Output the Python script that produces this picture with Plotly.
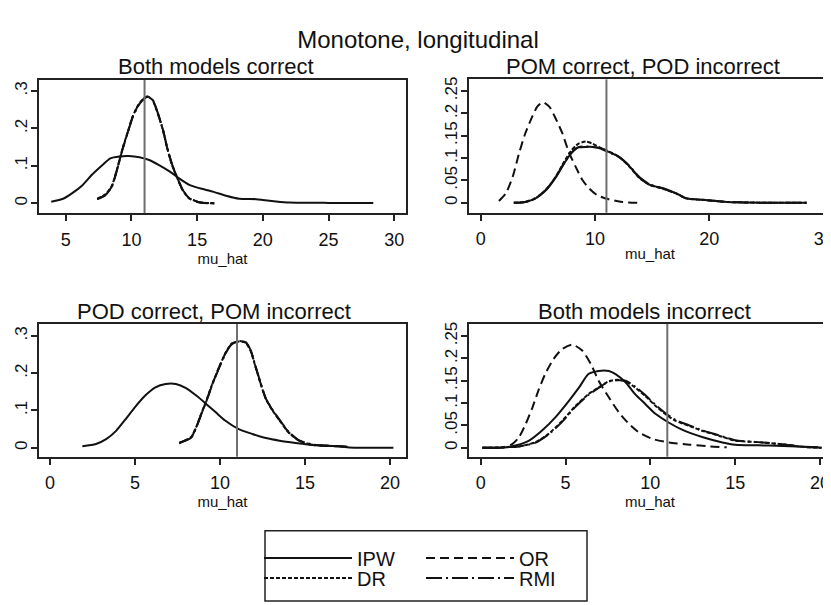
import plotly.graph_objects as go

# ---------------- data ----------------
TRUE_MU = 11

# Panel 1: Both models correct
p1_ipw_x = [3.9, 4.8, 5.5, 6.3, 7.0, 7.8, 8.4, 9.1, 9.8, 10.6, 11.3, 12.1, 12.9, 13.6, 14.4, 15.2, 16.2, 17.2, 18.2, 19.5, 20.0, 21.0, 22.0, 25.0, 28.4]
p1_ipw_y = [0.004, 0.012, 0.027, 0.049, 0.076, 0.102, 0.120, 0.125, 0.126, 0.123, 0.116, 0.102, 0.085, 0.067, 0.049, 0.040, 0.031, 0.020, 0.012, 0.011, 0.009, 0.005, 0.002, 0.001, 0.001]
p1_x = [7.4, 8.0, 8.5, 8.9, 9.3, 9.7, 10.1, 10.5, 10.8, 11.2, 11.6, 12.0, 12.4, 12.7, 13.1, 13.5, 13.9, 14.4, 15.2, 16.3]
p1_or_y = [0.011, 0.022, 0.044, 0.089, 0.142, 0.187, 0.231, 0.260, 0.274, 0.285, 0.277, 0.241, 0.196, 0.151, 0.102, 0.067, 0.036, 0.013, 0.002, 0.000]
p1_dr_y = [0.012, 0.023, 0.046, 0.090, 0.143, 0.188, 0.232, 0.261, 0.275, 0.284, 0.276, 0.240, 0.195, 0.150, 0.101, 0.066, 0.035, 0.013, 0.003, 0.000]
p1_rmi_y = [0.011, 0.021, 0.043, 0.088, 0.141, 0.186, 0.230, 0.259, 0.273, 0.284, 0.277, 0.242, 0.197, 0.152, 0.103, 0.068, 0.036, 0.014, 0.002, 0.000]

# Panel 2: POM correct, POD incorrect
p2_or_x = [1.6, 2.2, 2.8, 3.35, 3.9, 4.5, 4.95, 5.45, 6.0, 6.55, 7.15, 7.7, 8.3, 8.9, 9.5, 10.2, 11.2, 12.4, 13.7]
p2_or_y = [0.004, 0.021, 0.058, 0.110, 0.155, 0.192, 0.215, 0.225, 0.215, 0.189, 0.155, 0.114, 0.081, 0.051, 0.032, 0.017, 0.008, 0.002, 0.000]
p2_x = [2.9, 3.9, 4.8, 5.7, 6.6, 7.3, 7.9, 8.3, 8.6, 9.2, 9.8, 10.4, 11.2, 12.1, 13.0, 13.9, 14.8, 16.0, 17.2, 18.0, 19.8, 21.5, 23.0, 26.0, 28.5]
p2_ipw_y = [0.000, 0.002, 0.010, 0.028, 0.058, 0.088, 0.110, 0.120, 0.124, 0.125, 0.125, 0.123, 0.114, 0.103, 0.082, 0.056, 0.040, 0.032, 0.020, 0.010, 0.006, 0.002, 0.001, 0.000, 0.000]
p2_dr_y = [0.000, 0.002, 0.010, 0.029, 0.060, 0.092, 0.116, 0.127, 0.133, 0.137, 0.132, 0.124, 0.115, 0.103, 0.081, 0.055, 0.040, 0.031, 0.020, 0.010, 0.006, 0.002, 0.001, 0.000, 0.000]
p2_rmi_y = [0.000, 0.002, 0.011, 0.029, 0.059, 0.089, 0.111, 0.121, 0.125, 0.126, 0.125, 0.122, 0.113, 0.102, 0.083, 0.057, 0.041, 0.032, 0.019, 0.010, 0.006, 0.002, 0.001, 0.000, 0.000]

# Panel 3: POD correct, POM incorrect
p3_ipw_x = [1.9, 2.7, 3.3, 3.9, 4.45, 5.0, 5.6, 6.2, 6.8, 7.4, 8.0, 8.6, 9.2, 9.75, 10.3, 11.1, 11.9, 12.7, 13.5, 14.45, 15.6, 17.0, 17.6, 20.2]
p3_ipw_y = [0.004, 0.010, 0.023, 0.046, 0.077, 0.109, 0.140, 0.162, 0.171, 0.171, 0.160, 0.140, 0.117, 0.095, 0.073, 0.050, 0.037, 0.026, 0.019, 0.013, 0.007, 0.004, 0.001, 0.000]
p3_x = [7.6, 8.3, 8.6, 8.9, 9.2, 9.55, 9.95, 10.35, 10.7, 11.1, 11.5, 11.8, 12.1, 12.4, 12.7, 13.1, 13.6, 14.05, 14.65, 15.4, 16.4, 17.5]
p3_or_y = [0.013, 0.028, 0.055, 0.091, 0.126, 0.171, 0.216, 0.256, 0.279, 0.286, 0.283, 0.261, 0.216, 0.171, 0.131, 0.100, 0.068, 0.041, 0.019, 0.008, 0.005, 0.003]
p3_dr_y = [0.012, 0.029, 0.056, 0.092, 0.127, 0.172, 0.217, 0.257, 0.280, 0.285, 0.282, 0.260, 0.215, 0.170, 0.130, 0.099, 0.067, 0.040, 0.019, 0.008, 0.005, 0.003]
p3_rmi_y = [0.013, 0.027, 0.054, 0.090, 0.125, 0.170, 0.215, 0.255, 0.278, 0.286, 0.284, 0.262, 0.217, 0.172, 0.132, 0.101, 0.069, 0.042, 0.020, 0.009, 0.005, 0.003]

# Panel 4: Both models incorrect
p4_or_x = [0.1, 1.3, 1.85, 2.25, 2.65, 3.05, 3.4, 3.8, 4.3, 4.8, 5.4, 6.0, 6.5, 6.95, 7.55, 8.15, 8.75, 9.3, 10.1, 11.1, 12.3, 13.5, 14.5]
p4_or_y = [0.000, 0.001, 0.008, 0.023, 0.053, 0.090, 0.128, 0.165, 0.199, 0.221, 0.231, 0.217, 0.187, 0.150, 0.113, 0.079, 0.053, 0.035, 0.020, 0.012, 0.007, 0.003, 0.001]
p4_ipw_x = [0.1, 1.3, 2.05, 2.85, 3.6, 4.4, 5.2, 5.8, 6.35, 6.95, 7.55, 7.95, 8.55, 9.1, 9.7, 10.3, 11.1, 11.9, 13.05, 14.25, 15.0, 17.0, 19.9]
p4_ipw_y = [0.000, 0.000, 0.005, 0.016, 0.038, 0.068, 0.105, 0.135, 0.165, 0.172, 0.172, 0.165, 0.146, 0.120, 0.098, 0.076, 0.056, 0.040, 0.024, 0.012, 0.007, 0.005, 0.001]
p4_x = [0.1, 1.3, 2.25, 3.2, 4.0, 4.8, 5.6, 6.35, 6.95, 7.55, 8.05, 8.55, 9.1, 9.7, 10.3, 10.9, 11.5, 12.3, 13.05, 14.05, 15.0, 16.6, 18.0, 19.0, 20.1]
p4_dr_y = [0.000, 0.001, 0.003, 0.012, 0.031, 0.060, 0.094, 0.120, 0.135, 0.149, 0.152, 0.149, 0.135, 0.116, 0.094, 0.075, 0.060, 0.049, 0.038, 0.027, 0.016, 0.012, 0.007, 0.002, 0.000]
p4_rmi_y = [0.000, 0.001, 0.003, 0.011, 0.030, 0.058, 0.092, 0.118, 0.134, 0.148, 0.151, 0.150, 0.137, 0.118, 0.096, 0.077, 0.062, 0.050, 0.039, 0.028, 0.017, 0.012, 0.007, 0.002, 0.000]

panel_titles = ["Both models correct", "POM correct, POD incorrect",
                "POD correct, POM incorrect", "Both models incorrect"]
x_ticks = [[5, 10, 15, 20, 25, 30], [0, 10, 20, 30], [0, 5, 10, 15, 20], [0, 5, 10, 15, 20]]
y_ticks_a = [0, 0.1, 0.2, 0.3]
y_labels_a = ["0", ".1", ".2", ".3"]
y_ticks_b = [0, 0.05, 0.1, 0.15, 0.2, 0.25]
y_labels_b = ["0", ".05", ".1", ".15", ".2", ".25"]
series_names = ["IPW", "OR", "DR", "RMI"]

# ---------------- figure ----------------
# the page body has an 8px default margin; build the figure so that it fills the window
OFF = 8
W, H = 831 - OFF, 605 - OFF
FONT = "Liberation Sans, Arial, sans-serif"
INK = "#111111"

styles = {
    "IPW": "solid",
    "OR": "9px,5px",
    "DR": "4px,2px",
    "RMI": "16px,4px,2px,4px",
}
legend_ids = {"IPW": "legend", "OR": "legend2", "DR": "legend3", "RMI": "legend4"}

panels = [
    {"IPW": (p1_ipw_x, p1_ipw_y), "OR": (p1_x, p1_or_y), "DR": (p1_x, p1_dr_y), "RMI": (p1_x, p1_rmi_y)},
    {"IPW": (p2_x, p2_ipw_y), "OR": (p2_or_x, p2_or_y), "DR": (p2_x, p2_dr_y), "RMI": (p2_x, p2_rmi_y)},
    {"IPW": (p3_ipw_x, p3_ipw_y), "OR": (p3_x, p3_or_y), "DR": (p3_x, p3_dr_y), "RMI": (p3_x, p3_rmi_y)},
    {"IPW": (p4_ipw_x, p4_ipw_y), "OR": (p4_or_x, p4_or_y), "DR": (p4_x, p4_dr_y), "RMI": (p4_x, p4_rmi_y)},
]

fig = go.Figure()
for i, pdata in enumerate(panels):
    suffix = "" if i == 0 else str(i + 1)
    for name in series_names:
        xs, ys = pdata[name]
        fig.add_trace(go.Scatter(
            x=xs, y=ys, mode="lines", name=name,
            line=dict(color=INK, width=2, dash=styles[name], shape="spline", smoothing=0.6),
            xaxis="x" + suffix, yaxis="y" + suffix,
            showlegend=(i == 0), legend=legend_ids[name], hoverinfo="skip",
        ))


# window-pixel -> paper helpers
def px_x(p):
    return (p - OFF) / W


def px_y(p):
    return 1 - (p - OFF) / H


x_domains = [(39, 406), (469, 831), (39, 406), (469, 831)]
y_domains = [(80, 213), (79.3, 212.7), (324, 456.7), (324, 456.7)]
x_ranges = [[2.97, 30.89], [-1.02, 30.64], [-0.65, 20.94], [-0.69, 20.65]]
y_ranges = [[-0.026, 0.329], [-0.022, 0.276], [-0.024, 0.332], [-0.020, 0.277]]

axis_common = dict(showgrid=False, zeroline=False, showline=True, linewidth=2, linecolor="#222",
                   mirror=True, ticks="outside", ticklen=6, tickwidth=1.5, tickcolor="#222",
                   automargin=False)

layout_axes = {}
for i in range(4):
    suffix = "" if i == 0 else str(i + 1)
    xa = dict(axis_common)
    xa.update(domain=[px_x(x_domains[i][0]), min(1.0, px_x(x_domains[i][1]))], range=x_ranges[i],
              tickvals=x_ticks[i], anchor="y" + suffix, ticklabelstandoff=3,
              ticklabeloverflow="allow", tickfont=dict(family=FONT, size=18, color=INK),
              title=dict(text="mu_hat", font=dict(family=FONT, size=15, color=INK), standoff=0))
    ya = dict(axis_common)
    if i in (0, 2):
        tv, tt = y_ticks_a, y_labels_a
    else:
        tv, tt = y_ticks_b, y_labels_b
    ya.update(domain=[px_y(y_domains[i][1]), px_y(y_domains[i][0])], range=y_ranges[i],
              tickvals=tv, ticktext=tt, tickangle=-90, anchor="x" + suffix,
              tickfont=dict(family=FONT, size=17, color=INK), ticklabelstandoff=-3)
    layout_axes["xaxis" + suffix] = xa
    layout_axes["yaxis" + suffix] = ya

shapes = []
for i in range(4):
    suffix = "" if i == 0 else str(i + 1)
    shapes.append(dict(type="line", xref="x" + suffix, yref="y" + suffix + " domain",
                       x0=TRUE_MU, x1=TRUE_MU, y0=0, y1=1,
                       line=dict(color="#6e6e6e", width=2)))
# legend frame
shapes.append(dict(type="rect", xref="paper", yref="paper",
                   x0=px_x(265), x1=px_x(587), y0=px_y(601), y1=px_y(530.7),
                   line=dict(color="#222", width=1.5), fillcolor="rgba(0,0,0,0)"))

annotations = []
title_pos = [(215.5, 67), (642.5, 67), (213.5, 311), (644, 311)]
for t, (cx, cy) in zip(panel_titles, title_pos):
    annotations.append(dict(text=t, xref="paper", yref="paper", x=px_x(cx), y=px_y(cy),
                            xanchor="center", yanchor="middle", showarrow=False,
                            font=dict(family=FONT, size=22, color=INK)))

legend_base = dict(font=dict(family=FONT, size=20, color=INK), bgcolor="rgba(0,0,0,0)",
                   borderwidth=0, itemwidth=88, xanchor="left", yanchor="middle",
                   itemclick=False, itemdoubleclick=False)
legend_pos = {"legend": (259, 558), "legend2": (421, 558), "legend3": (259, 578), "legend4": (421, 578)}
legends = {}
for k, (lx, ly) in legend_pos.items():
    d = dict(legend_base)
    d.update(x=px_x(lx), y=px_y(ly))
    legends[k] = d

fig.update_layout(
    width=W, height=H,
    margin=dict(l=0, r=0, t=0, b=0),
    paper_bgcolor="white", plot_bgcolor="white",
    title=dict(text="Monotone, longitudinal", x=px_x(418), y=px_y(40), xanchor="center", yanchor="middle",
               xref="paper", yref="paper", font=dict(family=FONT, size=24, color=INK)),
    shapes=shapes, annotations=annotations,
    **layout_axes, **legends,
)

fig.write_html("out.html")
